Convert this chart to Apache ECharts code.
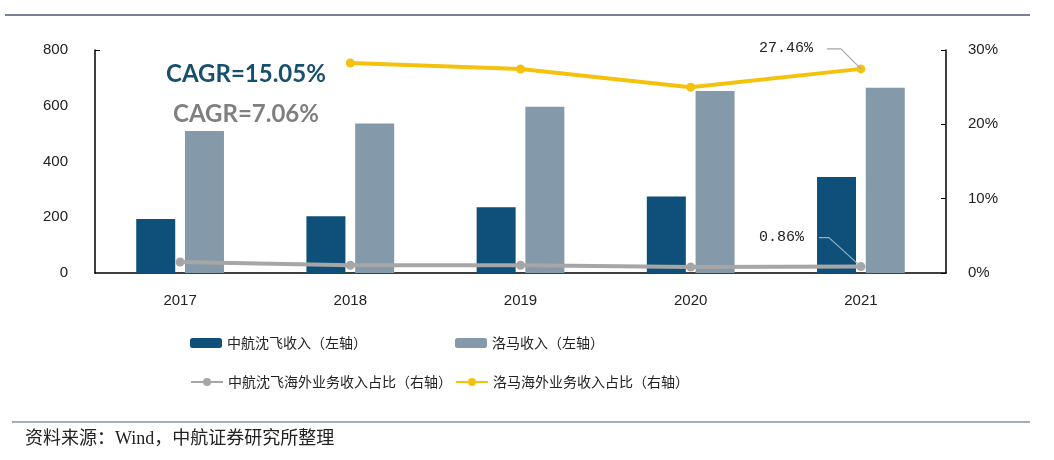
<!DOCTYPE html>
<html><head><meta charset="utf-8">
<script src="https://cdn.jsdelivr.net/npm/echarts@6/dist/echarts.min.js"></script>
<style>html,body{margin:0;padding:0;background:#fff;}#c{width:1054px;height:460px;}</style>
</head><body><div id="c"></div>
<script>
const categories = ['2017','2018','2019','2020','2021'];
const shenfeiRevenue = [194, 204, 236, 274, 344];
const lockheedRevenue = [509, 536, 596, 653, 665];
const shenfeiOverseasPct = [1.48, 1.04, 1.04, 0.81, 0.86];
const lockheedOverseasPct = [null, 28.25, 27.44, 25.0, 27.46];
const leftTicks = [0, 200, 400, 600, 800];
const rightTicks = [0, 10, 20, 30];
const seriesNames = ['中航沈飞收入（左轴）','洛马收入（左轴）','中航沈飞海外业务收入占比（右轴）','洛马海外业务收入占比（右轴）'];
const cagrTexts = ['CAGR=15.05%','CAGR=7.06%'];
const sourceText = '资料来源：Wind，中航证券研究所整理';

const chart = echarts.init(document.getElementById('c'));
const axisFont = {fontFamily:'Liberation Sans', fontSize:15, color:'#222'};
const legendText = {fontFamily:'Noto Sans CJK SC', fontSize:14, color:'#222'};
function lg(name, left, top){
  return {data:[name], left:left, top:top, itemWidth:32, itemHeight:10, itemGap:0, textStyle:legendText, selectedMode:false, padding:0};
}
chart.setOption({
  animation:false,
  grid:{left:95, right:108, top:50, bottom:187},
  legend:[
    lg(seriesNames[0],190,336), lg(seriesNames[1],455,336),
    lg(seriesNames[2],190,375), lg(seriesNames[3],455,375)
  ],
  xAxis:{type:'category', data:categories,
    axisLine:{lineStyle:{color:'#000', width:1.5}}, axisTick:{show:false},
    axisLabel:Object.assign({margin:20}, axisFont)},
  yAxis:[
    {type:'value', min:0, max:800, interval:200, splitLine:{show:false},
     axisLine:{show:true, lineStyle:{color:'#000', width:1.5}},
     axisTick:{show:true, inside:true, length:5, customValues:[800], lineStyle:{color:'#000'}},
     axisLabel:Object.assign({margin:27}, axisFont)},
    {type:'value', min:0, max:30, interval:10, splitLine:{show:false},
     axisLine:{show:true, lineStyle:{color:'#000', width:1.5}},
     axisTick:{show:true, inside:true, length:5, lineStyle:{color:'#000'}},
     axisLabel:Object.assign({margin:22, formatter:'{value}%'}, axisFont)}
  ],
  series:[
    {name:seriesNames[0], type:'bar', data:shenfeiRevenue, barWidth:39, barGap:'25%', itemStyle:{color:'#0E5079'}},
    {name:seriesNames[1], type:'bar', data:lockheedRevenue, barWidth:39, itemStyle:{color:'#8499AA'}},
    {name:seriesNames[2], type:'line', yAxisIndex:1, data:shenfeiOverseasPct, symbol:'circle', symbolSize:9,
     lineStyle:{color:'#A6A6A6', width:4}, itemStyle:{color:'#A6A6A6'}},
    {name:seriesNames[3], type:'line', yAxisIndex:1, data:lockheedOverseasPct, symbol:'circle', symbolSize:9,
     lineStyle:{color:'#F4C20D', width:4}, itemStyle:{color:'#F4C20D'}}
  ]
});

function buildGraphics(){
  const g = [];
  const pY = chart.convertToPixel({seriesIndex:3}, [4, lockheedOverseasPct[4]]);
  const pG = chart.convertToPixel({seriesIndex:2}, [4, shenfeiOverseasPct[4]]);
  const annFont = '15px "Liberation Mono"';
  g.push({type:'text', z:100, left:pY[0]-102, top:pY[1]-28, style:{text:lockheedOverseasPct[4].toFixed(2)+'%', font:annFont, fill:'#222'}});
  g.push({type:'polyline', z:100, shape:{points:[[pY[0]-34,pY[1]-20],[pY[0]-20,pY[1]-20],[pY[0],pY[1]]]}, style:{stroke:'#A6A6A6', lineWidth:1.2, fill:null}});
  g.push({type:'text', z:100, left:pG[0]-102, top:pG[1]-37, style:{text:shenfeiOverseasPct[4].toFixed(2)+'%', font:annFont, fill:'#222'}});
  g.push({type:'polyline', z:100, shape:{points:[[pG[0]-42,pG[1]-29],[pG[0]-32,pG[1]-29],[pG[0],pG[1]]]}, style:{stroke:'#8FB0C4', lineWidth:1.2, fill:null}});
  g.push({type:'text', z:100, left:166, top:62, style:{text:cagrTexts[0], font:'bold 24px Lato', fill:'#17506F'}});
  g.push({type:'text', z:100, left:173, top:102, style:{text:cagrTexts[1], font:'bold 24px Lato', fill:'#7F7F7F'}});
  g.push({type:'line', shape:{x1:5, y1:15, x2:1030, y2:15}, style:{stroke:'#4A5A70', lineWidth:1.5}});
  g.push({type:'line', shape:{x1:12, y1:422, x2:1030, y2:422}, style:{stroke:'#4A5A70', lineWidth:1.2}});
  g.push({type:'text', left:25, top:430, style:{text:sourceText, font:'18px "Liberation Serif", "Noto Sans CJK SC"', fill:'#222'}});
  chart.setOption({graphic:g});
}
buildGraphics();
</script></body></html>
